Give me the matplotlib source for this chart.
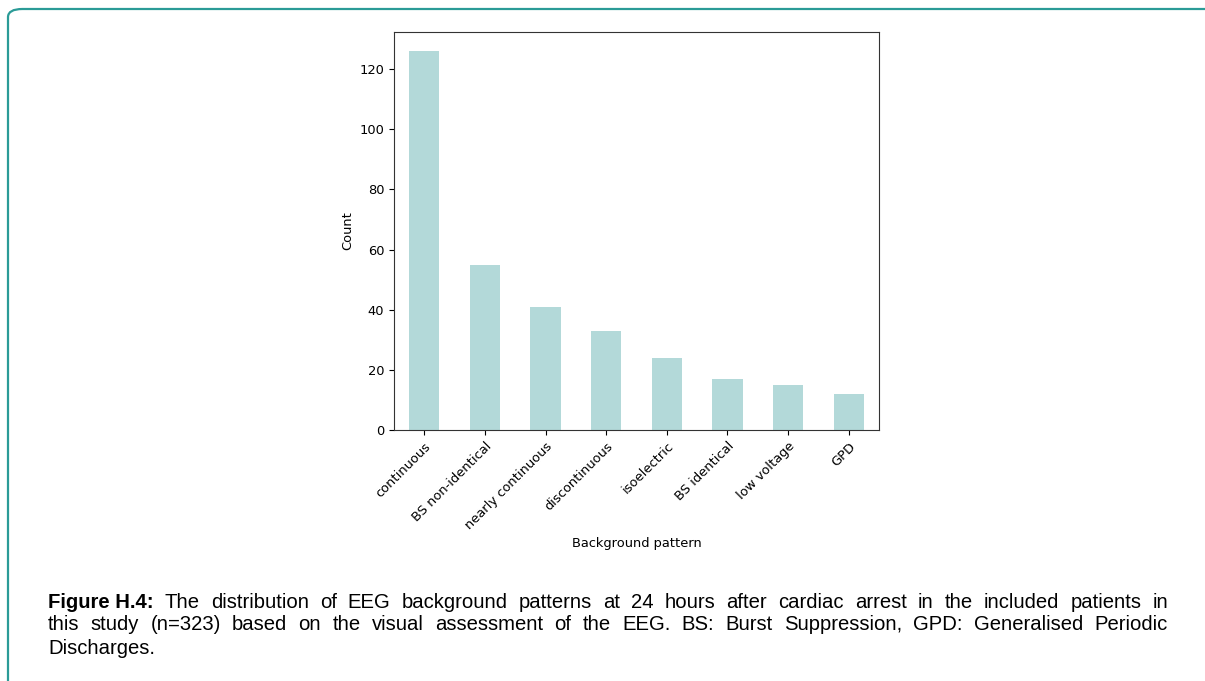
import matplotlib
matplotlib.use('Agg')
import matplotlib.pyplot as plt
from matplotlib.patches import FancyBboxPatch

patterns = ['continuous', 'BS non-identical', 'nearly continuous', 'discontinuous',
            'isoelectric', 'BS identical', 'low voltage', 'GPD']
counts = [126, 55, 41, 33, 24, 17, 15, 12]

caption_lines = [
    'The distribution of EEG background patterns at 24 hours after cardiac arrest in the included patients in',
    'this study (n=323) based on the visual assessment of the EEG. BS: Burst Suppression, GPD: Generalised Periodic',
    'Discharges.',
]
caption_head = 'Figure H.4:'

W, H = 1205, 681
fig = plt.figure(figsize=(W / 100, H / 100), dpi=100)

# rounded frame around the figure (runs off the right and bottom edges)
frame = FancyBboxPatch((8 / W, -40 / H), 1212 / W, (H - 9 + 40) / H,
                       boxstyle='round,pad=0,rounding_size=0.012',
                       transform=fig.transFigure, fill=False,
                       edgecolor='#2b9b97', linewidth=1.6)
fig.patches.append(frame)

ax = fig.add_axes([394 / W, 1 - 430 / H, 485 / W, 398 / H])
x = range(len(patterns))
ax.bar(x, counts, width=0.5, color='#b3d9d9')
ax.set_xlim(-0.5, len(patterns) - 0.5)
ax.set_ylim(0, max(counts) * 1.05)
ax.set_xticks(list(x))
ax.set_xticklabels(patterns, rotation=45, ha='right', rotation_mode='anchor', fontsize=9.4)
ax.tick_params(axis='y', labelsize=9.4)
ax.set_xlabel('Background pattern', fontsize=9.4)
ax.set_ylabel('Count', fontsize=9.4)
for s in ax.spines.values():
    s.set_color('#333333')

# justified caption, word by word
fs = 14.6
fam = 'Liberation Sans'
x0, x1 = 48, 1168
ys = [602, 625, 648]
r = fig.canvas.get_renderer()

def width(s, weight='normal'):
    t = fig.text(0, 0, s, fontsize=fs, family=fam, weight=weight)
    w = t.get_window_extent(r).width
    t.remove()
    return w

for i, line in enumerate(caption_lines):
    words = line.split(' ')
    items = [(w, 'normal') for w in words]
    if i == 0:
        items = [(caption_head, 'bold')] + items
    widths = [width(w, wt) for w, wt in items]
    if i < len(caption_lines) - 1:
        gap = (x1 - x0 - sum(widths)) / (len(items) - 1)
    else:
        gap = width('a b') - width('ab')
    xp = x0
    for (w, wt), wd in zip(items, widths):
        fig.text(xp / W, 1 - ys[i] / H, w, fontsize=fs, family=fam, weight=wt,
                 va='center', ha='left', color='black')
        xp += wd + gap

fig.savefig('out.png', dpi=100)
